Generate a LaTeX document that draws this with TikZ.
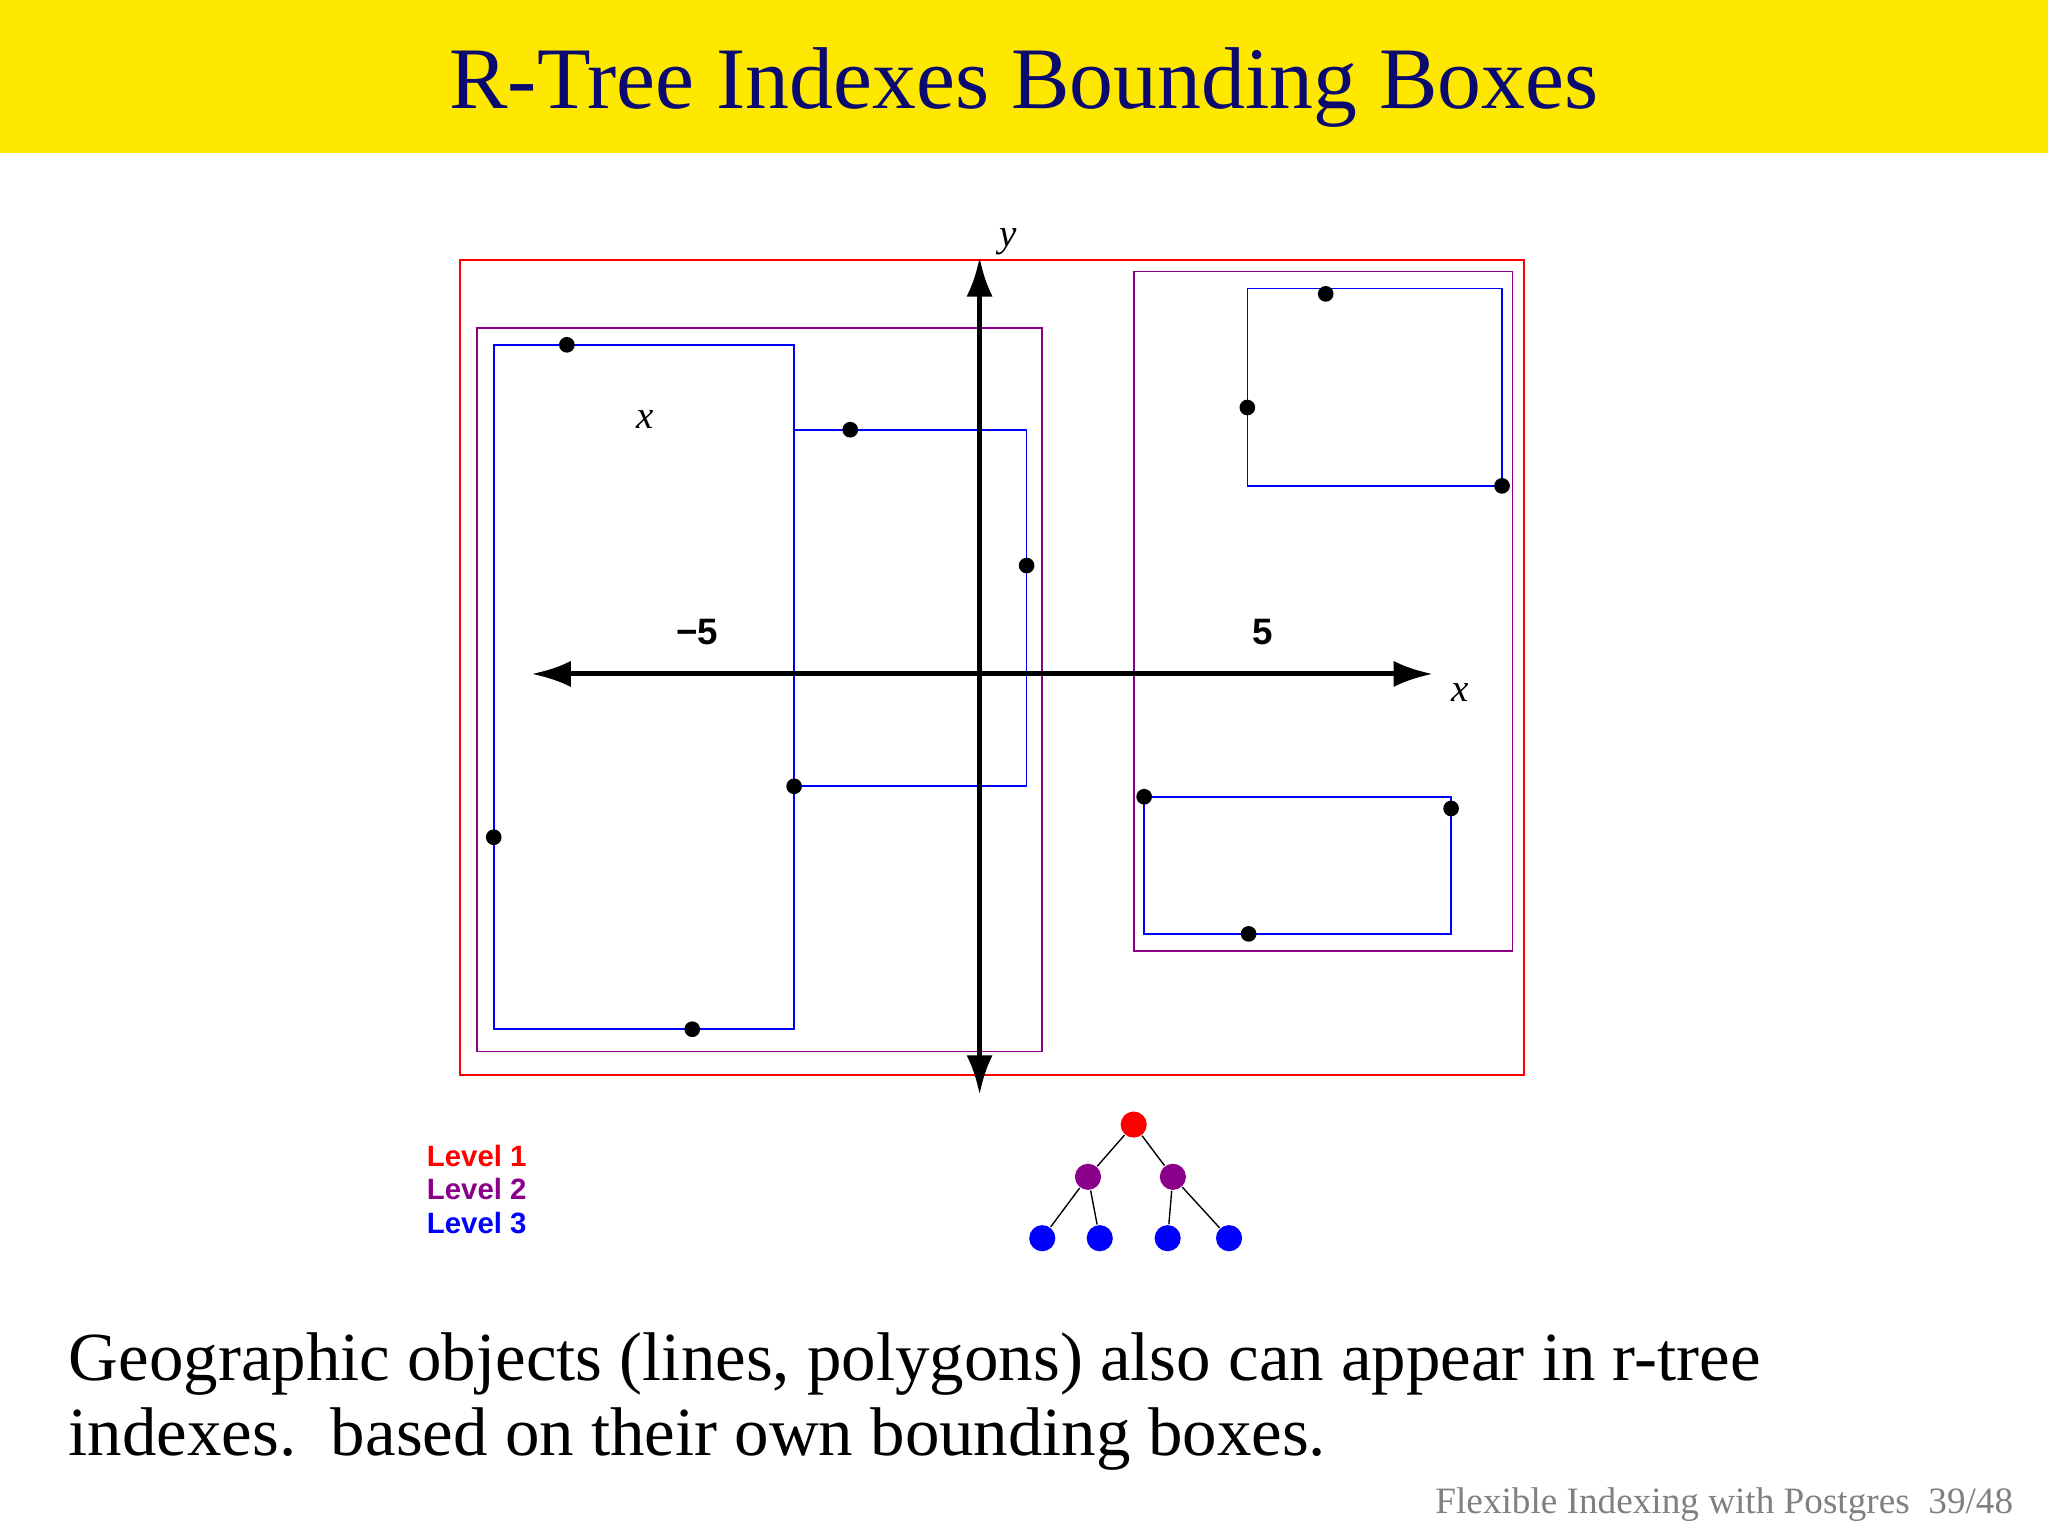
\documentclass[tikz,border=0pt]{standalone}
\usepackage{fontspec}
\setmainfont{Liberation Serif}
\setsansfont{Liberation Sans}
\usetikzlibrary{arrows.meta}
\definecolor{ttl}{HTML}{0A0A70}
\definecolor{ylw}{HTML}{FFE800}
\definecolor{pur}{HTML}{8B008B}
\begin{document}
\begin{tikzpicture}[x=0.01cm,y=-0.01cm,
  rbox/.style={draw=red,line width=0.35pt},
  pbox/.style={draw=pur,line width=0.35pt},
  bbox/.style={draw=blue,line width=0.35pt},
  pt/.style={circle,fill=black,inner sep=0pt,minimum size=0.12cm},
  tn/.style={circle,inner sep=0pt,minimum size=0.2cm},
  lab/.style={font=\sffamily\bfseries\fontsize{6.4pt}{7pt}\selectfont},
  ax/.style={line width=1.1pt,{Latex[length=0.3cm,width=0.2cm]}-{Latex[length=0.3cm,width=0.2cm]}}]
\useasboundingbox (0,0) rectangle (1568,1176);
\fill[ylw] (0,0) rectangle (1568,117);
\node[text=ttl,font=\fontsize{19.1pt}{20pt}\selectfont] (title) at (784,67) {R-Tree Indexes Bounding Boxes};
\draw[rbox] (352,199) rectangle (1167,823);
\draw[pbox] (365,251) rectangle (798,805);
\draw[bbox] (378,264) rectangle (608,788);
\draw[bbox] (608,329) rectangle (786,602);
\draw[pbox] (868,208) rectangle (1158,728);
\draw[bbox] (955,221) rectangle (1150,372);
\draw[bbox] (876,610) rectangle (1111,715);
\coordinate (xl) at (407,516); \coordinate (xr) at (1097,516);
\coordinate (yt) at (750,197); \coordinate (yb) at (750,838);
\draw[ax] (xl) -- (xr);
\draw[ax] (yb) -- (yt);
\node[font=\itshape\fontsize{8.5pt}{9pt}\selectfont] (ly) at (772,185) {y};
\node[font=\itshape\fontsize{8.5pt}{9pt}\selectfont] (lx) at (1118,530) {x};
\node[font=\itshape\fontsize{8.5pt}{9pt}\selectfont] (lx2) at (494,321) {x};
\node[font=\sffamily\bfseries\fontsize{8pt}{9pt}\selectfont] (m5) at (534,484) {−5};
\node[font=\sffamily\bfseries\fontsize{8pt}{9pt}\selectfont] (p5) at (967,484) {5};
\foreach \p [count=\i] in {(434,264),(651,329),(786,433),(608,602),(378,641),(530,788),(1015,225),(955,312),(1150,372),(876,610),(1111,619),(956,715)}
  \node[pt] (d\i) at \p {};
\node[lab,text=red] (l1) at (365,885) {Level 1};
\node[lab,text=pur] (l2) at (365,910) {Level 2};
\node[lab,text=blue] (l3) at (365,936) {Level 3};
\node[tn,fill=red] (r) at (868,861) {};
\node[tn,fill=pur] (a) at (833,901) {};
\node[tn,fill=pur] (b) at (898,901) {};
\node[tn,fill=blue] (c1) at (798,948) {};
\node[tn,fill=blue] (c2) at (842,948) {};
\node[tn,fill=blue] (c3) at (894,948) {};
\node[tn,fill=blue] (c4) at (941,948) {};
\draw[line width=0.3pt] (r)--(a) (r)--(b) (a)--(c1) (a)--(c2) (b)--(c3) (b)--(c4);
\node[anchor=west,align=left,inner sep=0pt,font=\fontsize{15pt}{16.5pt}\selectfont] (body) at (52,1073) {Geographic objects (lines, polygons) also can appear in r-tree\\indexes.\ \ based on their own bounding boxes.};
\node[anchor=east,inner sep=0pt,text=gray,font=\fontsize{8.1pt}{9pt}\selectfont] (foot) at (1542,1152) {Flexible Indexing with Postgres\ \ 39/48};
\end{tikzpicture}
\end{document}
